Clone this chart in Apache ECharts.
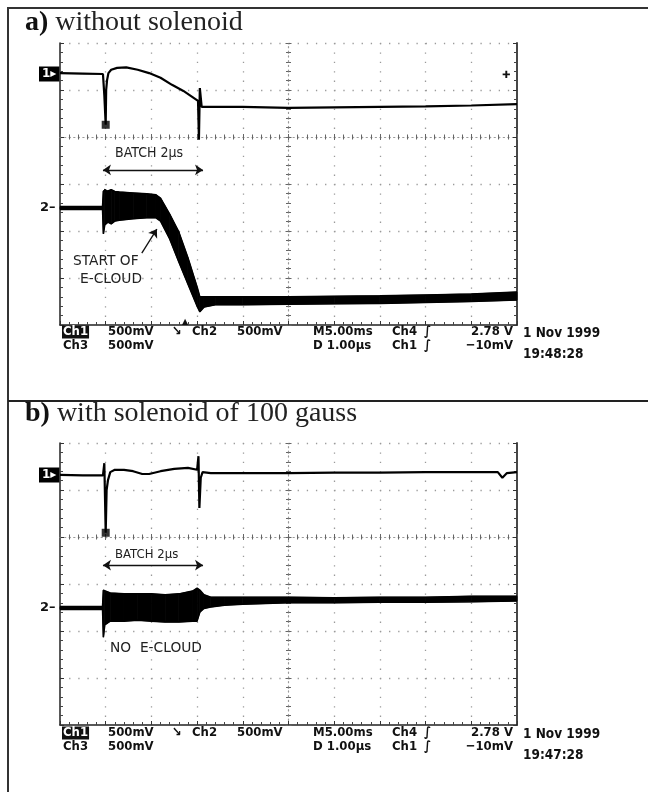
<!DOCTYPE html>
<html><head><meta charset="utf-8">
<script src="https://cdn.jsdelivr.net/npm/echarts@6/dist/echarts.min.js"></script>
<style>html,body{margin:0;padding:0;background:#fff}#c{width:648px;height:792px}</style>
</head><body><div id="c"></div>
<script>
// ================= DATA (time in µs, amplitude in screen divisions) =================
// Panel a) without solenoid
const aCh1Time = [0, 0.5, 0.94, 0.97, 1.0, 1.01, 1.03, 1.06, 1.12, 1.25, 1.45, 1.7, 1.95, 2.2, 2.45, 2.7, 2.9, 3.02, 3.04, 3.06, 3.1, 3.3, 4, 5, 6, 7, 8, 9, 10];
const aCh1Val  = [5.36, 5.35, 5.34, 4.89, 4.26, 5.0, 5.21, 5.36, 5.43, 5.47, 5.48, 5.43, 5.36, 5.26, 5.11, 4.98, 4.85, 4.77, 3.94, 5.04, 4.64, 4.64, 4.64, 4.62, 4.63, 4.64, 4.65, 4.67, 4.70];
const aCh2Time = [0, 0.5, 0.93, 0.95, 0.98, 1.05, 1.12, 1.2, 1.3, 1.6, 1.9, 2.1, 2.2, 2.4, 2.6, 2.8, 3.0, 3.06, 3.15, 3.4, 4, 5, 6, 7, 8, 9, 10];
const aCh2High = [2.52, 2.52, 2.52, 2.85, 2.89, 2.85, 2.88, 2.84, 2.83, 2.81, 2.79, 2.77, 2.70, 2.36, 1.98, 1.43, 0.81, 0.60, 0.60, 0.60, 0.60, 0.60, 0.61, 0.62, 0.64, 0.66, 0.70];
const aCh2Low  = [2.46, 2.46, 2.46, 1.94, 2.13, 2.19, 2.15, 2.21, 2.23, 2.26, 2.28, 2.28, 2.21, 1.83, 1.34, 0.87, 0.40, 0.28, 0.38, 0.43, 0.43, 0.44, 0.45, 0.46, 0.48, 0.50, 0.53];
const aMarker  = [[1.0, 4.26]];
const aBatchArrow = [[0.94, 3.30], [3.13, 3.30]];
const aCloudArrow = [[1.79, 1.53], [2.12, 2.04]];

// Panel b) with solenoid of 100 gauss
const bCh1Time = [0, 0.5, 0.94, 0.97, 1.0, 1.02, 1.05, 1.1, 1.2, 1.4, 1.6, 1.8, 1.95, 2.2, 2.5, 2.8, 3.0, 3.03, 3.05, 3.08, 3.12, 3.3, 4, 5, 6, 7, 8, 9, 9.58, 9.68, 9.78, 10];
const bCh1Val  = [5.32, 5.31, 5.31, 5.57, 4.09, 5.0, 5.21, 5.38, 5.43, 5.43, 5.40, 5.34, 5.34, 5.40, 5.45, 5.47, 5.43, 5.72, 4.62, 5.26, 5.38, 5.36, 5.36, 5.36, 5.37, 5.37, 5.38, 5.38, 5.38, 5.26, 5.36, 5.38];
const bCh2Time = [0, 0.5, 0.93, 0.95, 0.98, 1.1, 1.4, 1.7, 2.0, 2.3, 2.6, 2.9, 3.0, 3.06, 3.15, 3.3, 3.6, 4, 5, 6, 7, 8, 9, 10];
const bCh2High = [2.52, 2.52, 2.52, 2.87, 2.85, 2.81, 2.79, 2.79, 2.79, 2.77, 2.79, 2.85, 2.91, 2.87, 2.77, 2.72, 2.72, 2.72, 2.72, 2.71, 2.72, 2.72, 2.74, 2.74];
const bCh2Low  = [2.46, 2.46, 2.46, 1.87, 2.13, 2.21, 2.21, 2.23, 2.21, 2.19, 2.19, 2.21, 2.21, 2.40, 2.48, 2.51, 2.55, 2.57, 2.60, 2.60, 2.61, 2.61, 2.62, 2.64];
const bMarker  = [[1.0, 4.09]];
const bBatchArrow = [[0.94, 3.40], [3.13, 3.40]];

// Texts
const panelLetters = ['a)', 'b)'];
const panelTitles = [' without solenoid', ' with solenoid of 100 gauss'];
const readoutLine1 = ['Ch1', '500mV', '\u2198', 'Ch2', '500mV', 'M5.00ms', 'Ch4', '\u222B', '2.78 V', '1 Nov 1999'];
const readoutLine2 = ['Ch3', '500mV', 'D 1.00\u00B5s', 'Ch1', '\u222B', '\u221210mV'];
const readoutTimes = ['19:48:28', '19:47:28'];
const batchLabel = 'BATCH 2\u00B5s';
const cloudLabelA = ['START OF', 'E-CLOUD'];
const cloudLabelB = 'NO  E-CLOUD';

// ================= LAYOUT =================
const GL = 60, GW = 457, GH = 282;
const gridTops = [43, 443];
const DOT = '#9a9a9a';
const DIV_X = GW / 10, DIV_Y = GH / 6;

function xAxesFor(g) {
  const base = {type: 'value', gridIndex: g, min: 0, max: 10, interval: 1,
    axisLabel: {show: false}, splitLine: {show: false}, axisTick: {show: false},
    minorTick: {show: false}, axisLine: {show: false, onZero: false}};
  return [
    Object.assign({}, base, {position: 'bottom',
      axisLine: {show: true, onZero: false, lineStyle: {color: '#222', width: 1.5}},
      axisTick: {show: true, inside: true, length: 4, lineStyle: {color: '#333'}},
      minorTick: {show: true, splitNumber: 5, length: 3, lineStyle: {color: '#444'}},
      splitLine: {show: true, showMinLine: false, showMaxLine: false,
        lineStyle: {color: DOT, width: 1.3, type: [1.3, DIV_Y / 5 - 1.3]}}}),
    Object.assign({}, base, {position: 'bottom', offset: -4 * DIV_Y,
      axisLine: {show: true, onZero: false, lineStyle: {color: DOT, width: 1.2, type: [1.2, DIV_X / 10 - 1.2]}},
      axisTick: {show: true, inside: true, length: 3, lineStyle: {color: '#666'}},
      minorTick: {show: true, splitNumber: 5, length: 2.5, lineStyle: {color: '#666'}}}),
    Object.assign({}, base, {position: 'bottom', offset: -4 * DIV_Y,
      axisTick: {show: true, inside: false, length: 3, lineStyle: {color: '#666'}},
      minorTick: {show: true, splitNumber: 5, length: 2.5, lineStyle: {color: '#666'}}})
  ];
}
function yAxesFor(g) {
  const base = {type: 'value', gridIndex: g, min: 0, max: 6, interval: 1,
    axisLabel: {show: false}, splitLine: {show: false}, axisTick: {show: false},
    minorTick: {show: false}, axisLine: {show: false, onZero: false}};
  return [
    Object.assign({}, base, {position: 'left',
      axisLine: {show: true, onZero: false, lineStyle: {color: '#222', width: 1.5}},
      axisTick: {show: true, inside: true, length: 4, lineStyle: {color: '#333'}},
      minorTick: {show: true, splitNumber: 5, length: 3, lineStyle: {color: '#444'}},
      splitLine: {show: true, showMinLine: false, showMaxLine: true,
        lineStyle: {color: DOT, width: 1.3, type: [1.3, DIV_X / 5 - 1.3]}}}),
    Object.assign({}, base, {position: 'right',
      axisLine: {show: true, onZero: false, lineStyle: {color: '#333', width: 1.8}},
      axisTick: {show: true, inside: true, length: 4, lineStyle: {color: '#333'}},
      minorTick: {show: true, splitNumber: 5, length: 3, lineStyle: {color: '#444'}}}),
    Object.assign({}, base, {position: 'left', offset: -5 * DIV_X,
      axisLine: {show: true, onZero: false, lineStyle: {color: DOT, width: 1.2, type: [1.2, DIV_Y / 10 - 1.2]}},
      axisTick: {show: true, inside: true, length: 3, lineStyle: {color: '#666'}},
      minorTick: {show: true, splitNumber: 5, length: 2.5, lineStyle: {color: '#666'}}}),
    Object.assign({}, base, {position: 'left', offset: -5 * DIV_X,
      axisTick: {show: true, inside: false, length: 3, lineStyle: {color: '#666'}},
      minorTick: {show: true, splitNumber: 5, length: 2.5, lineStyle: {color: '#666'}}})
  ];
}

const zip = (t, v) => t.map((x, i) => [x, v[i]]);
// band segments: [t0, lo0, hi0, t1, lo1, hi1]
const bandSegments = (t, lo, hi) => t.slice(0, -1).map((x, i) => [x, lo[i], hi[i], t[i + 1], lo[i + 1], hi[i + 1]]);
function renderBand(params, api) {
  const pts = [
    api.coord([api.value(0), api.value(2)]),
    api.coord([api.value(3), api.value(5)]),
    api.coord([api.value(3), api.value(4)]),
    api.coord([api.value(0), api.value(1)])
  ];
  return {type: 'polygon', shape: {points: pts}, style: {fill: '#000', stroke: '#000', lineWidth: 0.8}};
}
function panelSeries(g, c1t, c1v, c2t, c2lo, c2hi, marker, batchArrow, extraArrow) {
  const xi = g * 3, yi = g * 4;
  const ml = [[{coord: batchArrow[0], symbol: 'arrow'}, {coord: batchArrow[1], symbol: 'arrow'}]];
  if (extraArrow) ml.push([{coord: extraArrow[0], symbol: 'none'}, {coord: extraArrow[1], symbol: 'arrow'}]);
  return [
    {type: 'line', name: 'ch1_' + g, xAxisIndex: xi, yAxisIndex: yi, data: zip(c1t, c1v),
      symbol: 'none', lineStyle: {color: '#000', width: 2.2}, z: 6,
      markLine: {silent: true, symbolSize: 8, animation: false,
        lineStyle: {color: '#111', width: 1.3, type: 'solid'}, label: {show: false},
        emphasis: {disabled: true}, data: ml}},
    {type: 'custom', name: 'ch2band_' + g, xAxisIndex: xi, yAxisIndex: yi,
      data: bandSegments(c2t, c2lo, c2hi), encode: {x: [0, 3], y: [1, 2, 4, 5]},
      renderItem: renderBand, silent: true, z: 4},
    {type: 'line', name: 'ch2lo_' + g, xAxisIndex: xi, yAxisIndex: yi,
      data: zip(c2t, c2lo), symbol: 'none', lineStyle: {color: '#000', width: 1.5}, z: 4},
    {type: 'line', name: 'ch2hi_' + g, xAxisIndex: xi, yAxisIndex: yi,
      data: zip(c2t, c2hi), symbol: 'none', lineStyle: {color: '#000', width: 1.5}, z: 4},
    {type: 'scatter', xAxisIndex: xi, yAxisIndex: yi, data: marker, symbol: 'rect', symbolSize: 8,
      itemStyle: {color: '#000'}, z: 7}
  ];
}

// ---------- graphic (frame, titles, readouts, annotations) ----------
const RO_FONT = '"DejaVu Sans Condensed", "DejaVu Sans", sans-serif';
const HAND_FONT = '"DejaVu Sans", sans-serif';
function txt(text, x, y, o) {
  o = o || {};
  return {type: 'text', x: x, y: y, z: 100, silent: true, scaleX: o.sx || 1,
    style: Object.assign({text: text, fill: '#111', fontFamily: RO_FONT, fontSize: 13,
      fontWeight: 'bold', align: 'left', verticalAlign: 'middle'}, o.style || {})};
}
const graphics = [
  {type: 'line', z: 50, shape: {x1: 8, y1: 8, x2: 648, y2: 8}, style: {stroke: '#333', lineWidth: 2.2}},
  {type: 'line', z: 50, shape: {x1: 8, y1: 7, x2: 8, y2: 792}, style: {stroke: '#333', lineWidth: 2}},
  {type: 'line', z: 50, shape: {x1: 8, y1: 401, x2: 648, y2: 401}, style: {stroke: '#222', lineWidth: 2}}
];
const titleY = [23, 414];
const ch1MarkY = [74, 475], ch2MarkY = [208, 608];
const roY = [332, 733];
const ro1X = [62, 108, 172, 192, 237, 313, 392, 424, 513, 523];
const ro2X = [63, 108, 313, 392, 424, 513];
for (let p = 0; p < 2; p++) {
  graphics.push(txt('{b|' + panelLetters[p] + '}' + panelTitles[p], 25, titleY[p], {style: {
    fontFamily: '"Liberation Serif", "DejaVu Serif", serif', fontSize: 28, fontWeight: 'normal', fill: '#222',
    rich: {b: {fontFamily: '"Liberation Serif", serif', fontSize: 28, fontWeight: 'bold', fill: '#111'}}}}));
  graphics.push(txt('1\u25B8', 39, ch1MarkY[p], {style: {fill: '#fff', backgroundColor: '#000', fontSize: 12,
    fontFamily: '"DejaVu Sans", sans-serif', padding: [2, 3, 1, 3]}}));
  graphics.push(txt('2\u2013', 40, ch2MarkY[p], {style: {fontSize: 13, fontFamily: '"DejaVu Sans", sans-serif'}}));
  readoutLine1.forEach((s, i) => {
    const st = {fontSize: 13};
    if (i === 0) { st.fill = '#fff'; st.backgroundColor = '#111'; st.padding = [0, 1, 0, 1]; }
    if (i === 8) st.align = 'right';
    if (i === 9) st.fontSize = 13.5;
    graphics.push(txt(s, ro1X[i], roY[p] + (i === 9 ? 1 : 0), {style: st}));
  });
  readoutLine2.forEach((s, i) => {
    const st = {fontSize: 13};
    if (i === 5) st.align = 'right';
    graphics.push(txt(s, ro2X[i], roY[p] + 14, {style: st}));
  });
  graphics.push(txt(readoutTimes[p], 523, roY[p] + 22, {style: {fontSize: 13.5}}));
}
// panel a extras
graphics.push(txt('\u271A', 502, 75, {style: {fontSize: 10, fontFamily: '"DejaVu Sans", sans-serif'}}));
graphics.push(txt('\u25B2', 182, 322, {style: {fontSize: 8, fontFamily: '"DejaVu Sans", sans-serif'}}));
graphics.push(txt(batchLabel, 115, 153, {sx: 0.9, style: {fontFamily: HAND_FONT, fontWeight: 'normal', fontSize: 14, fill: '#222'}}));
graphics.push(txt(cloudLabelA[0], 73, 261, {sx: 0.95, style: {fontFamily: HAND_FONT, fontWeight: 'normal', fontSize: 14.5, fill: '#222'}}));
graphics.push(txt(cloudLabelA[1], 80, 279, {sx: 0.95, style: {fontFamily: HAND_FONT, fontWeight: 'normal', fontSize: 14.5, fill: '#222'}}));
// panel b extras
graphics.push(txt(batchLabel, 115, 555, {sx: 0.9, style: {fontFamily: HAND_FONT, fontWeight: 'normal', fontSize: 13, fill: '#222'}}));
graphics.push(txt(cloudLabelB, 110, 648, {sx: 0.95, style: {fontFamily: HAND_FONT, fontWeight: 'normal', fontSize: 14.5, fill: '#222'}}));

const option = {
  animation: false,
  backgroundColor: '#fff',
  grid: gridTops.map(t => ({left: GL, top: t, width: GW, height: GH, outerBoundsMode: 'none', containLabel: false})),
  xAxis: [].concat(xAxesFor(0), xAxesFor(1)),
  yAxis: [].concat(yAxesFor(0), yAxesFor(1)),
  series: [].concat(
    panelSeries(0, aCh1Time, aCh1Val, aCh2Time, aCh2Low, aCh2High, aMarker, aBatchArrow, aCloudArrow),
    panelSeries(1, bCh1Time, bCh1Val, bCh2Time, bCh2Low, bCh2High, bMarker, bBatchArrow, null)
  ),
  graphic: graphics
};
const chart = echarts.init(document.getElementById('c'));
chart.setOption(option);
</script>
</body></html>
